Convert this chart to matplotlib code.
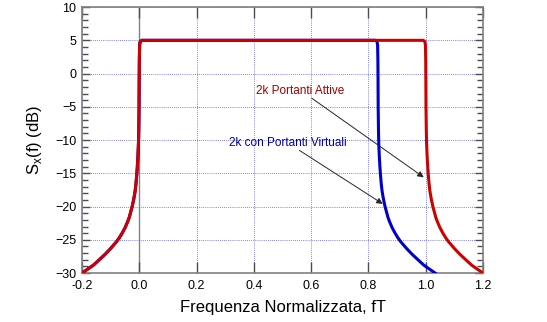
import matplotlib
matplotlib.use("Agg")
import matplotlib.pyplot as plt
from matplotlib.ticker import MultipleLocator

# spectrum (normalised frequency fT, dB)
f_attive = [-0.2, -0.18, -0.16, -0.14, -0.12, -0.1, -0.09, -0.08, -0.07,
            -0.06, -0.05, -0.04, -0.035, -0.03, -0.025, -0.02, -0.015,
            -0.012, -0.009, -0.007, -0.005, -0.003, -0.002, -0.001,
            -0.0005, 0.0, 0.001, 0.003, 0.008, 0.015,
            0.985, 0.992, 0.997, 0.999, 1.0, 1.0005, 1.001, 1.002, 1.003,
            1.005, 1.007, 1.009, 1.012, 1.015, 1.02, 1.025, 1.03, 1.035,
            1.04, 1.05, 1.06, 1.07, 1.08, 1.09, 1.1, 1.12, 1.14, 1.16,
            1.18, 1.2]
s_attive = [-30, -29.4, -28.8, -28.0, -27.2, -26.3, -25.8, -25.3, -24.7,
            -24.0, -23.2, -22.2, -21.6, -20.8, -20.0, -19.0, -17.8,
            -16.7, -15.2, -14.0, -12.5, -10.5, -8.5, -5,
            -1, 2, 4.3, 4.8, 5, 5,
            5, 5, 4.8, 4.3, 2, -1, -5, -8.5, -10.5,
            -12.5, -14.0, -15.2, -16.7, -17.8, -19.0, -20.0, -20.8, -21.6,
            -22.2, -23.2, -24.0, -24.7, -25.3, -25.8, -26.3, -27.2, -28.0,
            -28.8, -29.4, -30]

f_virtuali = [-0.2, -0.18, -0.16, -0.14, -0.12, -0.1, -0.09, -0.08, -0.07,
              -0.06, -0.05, -0.04, -0.035, -0.03, -0.025, -0.02, -0.015,
              -0.012, -0.009, -0.007, -0.005, -0.003, -0.002, -0.001,
              -0.0005, 0.0, 0.001, 0.003, 0.008, 0.015,
              0.818, 0.825, 0.830, 0.832, 0.833, 0.8335, 0.834, 0.835,
              0.836, 0.838, 0.840, 0.842, 0.845, 0.848, 0.853, 0.858,
              0.863, 0.868, 0.873, 0.883, 0.893, 0.903, 0.913, 0.923,
              0.933, 0.953, 0.973, 0.993, 1.013, 1.033]
s_virtuali = [-30, -29.4, -28.8, -28.0, -27.2, -26.3, -25.8, -25.3, -24.7,
              -24.0, -23.2, -22.2, -21.6, -20.8, -20.0, -19.0, -17.8,
              -16.7, -15.2, -14.0, -12.5, -10.5, -8.5, -5,
              -1, 2, 4.3, 4.8, 5, 5,
              5, 5, 4.8, 4.3, 2, -1, -5, -8.5,
              -10.5, -12.5, -14.0, -15.2, -16.7, -17.8, -19.0, -20.0,
              -20.8, -21.6, -22.2, -23.2, -24.0, -24.7, -25.3, -25.8,
              -26.3, -27.2, -28.0, -28.8, -29.4, -30]

plt.rcParams['font.family'] = ['Liberation Sans', 'DejaVu Sans']
fig = plt.figure(figsize=(5.47, 3.22), dpi=100)
ax = fig.add_axes([0.150, 0.152, 0.733, 0.826])

ax.grid(True, which="major", color="#5555ff", ls=(0, (1, 1.5)), lw=0.6)
ax.axvline(0, color="0.55", lw=1.0, zorder=1.5)

ax.plot(f_virtuali, s_virtuali, color="#0000cc", lw=2.2, zorder=3)
ax.plot(f_attive, s_attive, color="#cc0000", lw=2.2, zorder=4)

ax.text(0.408, -2.6, "2k Portanti Attive", color="#a00000", fontsize=8.5,
        ha="left", va="center")
ax.annotate("", xy=(0.993, -15.6), xytext=(0.602, -3.7),
            arrowprops=dict(arrowstyle="-|>", color="0.15", lw=0.7,
                            mutation_scale=9, shrinkA=0, shrinkB=0))
ax.text(0.313, -10.4, "2k con Portanti Virtuali", color="#0000a0",
        fontsize=8.5, ha="left", va="center")
ax.annotate("", xy=(0.85, -19.6), xytext=(0.559, -11.55),
            arrowprops=dict(arrowstyle="-|>", color="0.15", lw=0.7,
                            mutation_scale=9, shrinkA=0, shrinkB=0))

ax.set_xlim(-0.2, 1.2)
ax.set_ylim(-30, 10)
ax.xaxis.set_major_locator(MultipleLocator(0.2))
ax.yaxis.set_major_locator(MultipleLocator(5))
ax.yaxis.set_minor_locator(MultipleLocator(1))
ax.set_xticks([-0.2, 0.0, 0.2, 0.4, 0.6, 0.8, 1.0, 1.2])
ax.set_xticklabels(["-0.2", "0.0", "0.2", "0.4", "0.6", "0.8", "1.0", "1.2"])
ax.tick_params(which="both", direction="in", top=True, right=True,
               labelsize=9, color="0.3")
ax.tick_params(axis="x", which="major", length=8, width=1.0, pad=5)
ax.tick_params(axis="y", which="major", length=6, width=1.0, pad=4)
ax.tick_params(axis="y", which="minor", length=4, width=1.0)
for sp in ax.spines.values():
    sp.set_color("0.5")
    sp.set_linewidth(1.2)

ax.set_xlabel("Frequenza Normalizzata, fT", fontsize=12, labelpad=6)
ax.set_ylabel("S$_\\mathregular{x}$(f) (dB)", fontsize=12, labelpad=8)

fig.savefig("out.png", dpi=100)
